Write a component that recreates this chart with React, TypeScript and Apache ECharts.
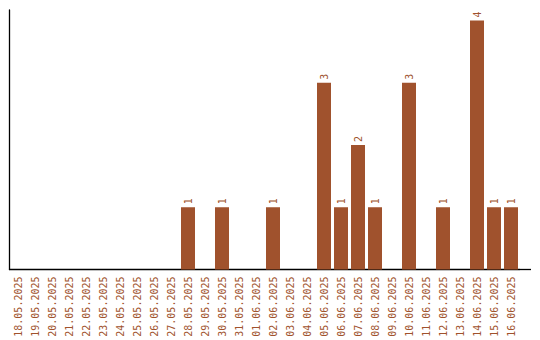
import React, { useEffect, useRef } from "react";
import * as echarts from "echarts";

const dates = [
  "18.05.2025", "19.05.2025", "20.05.2025", "21.05.2025", "22.05.2025",
  "23.05.2025", "24.05.2025", "25.05.2025", "26.05.2025", "27.05.2025",
  "28.05.2025", "29.05.2025", "30.05.2025", "31.05.2025", "01.06.2025",
  "02.06.2025", "03.06.2025", "04.06.2025", "05.06.2025", "06.06.2025",
  "07.06.2025", "08.06.2025", "09.06.2025", "10.06.2025", "11.06.2025",
  "12.06.2025", "13.06.2025", "14.06.2025", "15.06.2025", "16.06.2025",
];

const counts = [
  0, 0, 0, 0, 0,
  0, 0, 0, 0, 0,
  1, 0, 1, 0, 0,
  1, 0, 0, 3, 1,
  2, 1, 0, 3, 0,
  1, 0, 4, 1, 1,
];

const BAR = "#a0522d";
const FONT = "DejaVu Sans Mono";

export default function App() {
  const ref = useRef<HTMLDivElement>(null);

  useEffect(() => {
    document.body.style.margin = "0";
    if (!ref.current) return;
    const chart = echarts.init(ref.current, null, { renderer: "svg" });
    const gridLeft = 9.5;
    const gridTop = 10;
    const gridHeight = 259.5;
    const gridWidth = 510;
    chart.setOption({
      animation: false,
      grid: { left: gridLeft, top: gridTop, width: gridWidth, height: gridHeight },
      xAxis: {
        type: "category",
        data: dates,
        axisLine: { show: true, lineStyle: { color: "#000", width: 1.3 } },
        axisTick: { show: false },
        axisLabel: {
          rotate: 90,
          interval: 0,
          color: BAR,
          fontFamily: FONT,
          fontSize: 10,
          margin: 7,
        },
      },
      yAxis: {
        type: "value",
        min: 0,
        max: (v: { max: number }) => v.max * 1.042,
        axisLine: { show: true, lineStyle: { color: "#000", width: 1.3 } },
        axisTick: { show: false },
        axisLabel: { show: false },
        splitLine: { show: false },
      },
      // the baseline runs a little past the last category
      graphic: [
        {
          type: "line",
          shape: {
            x1: gridLeft + gridWidth,
            y1: gridTop + gridHeight,
            x2: 531,
            y2: gridTop + gridHeight,
          },
          style: { stroke: "#000", lineWidth: 1.3 },
        },
      ],
      series: [
        {
          type: "bar",
          data: counts.map((c) => (c === 0 ? null : c)),
          barWidth: 14,
          itemStyle: { color: BAR },
          label: {
            show: true,
            position: "top",
            rotate: 90,
            align: "left",
            verticalAlign: "middle",
            distance: 3,
            color: BAR,
            fontFamily: FONT,
            fontSize: 10,
          },
        },
      ],
    });
    return () => chart.dispose();
  }, []);

  return <div ref={ref} style={{ width: 540, height: 340 }} />;
}
